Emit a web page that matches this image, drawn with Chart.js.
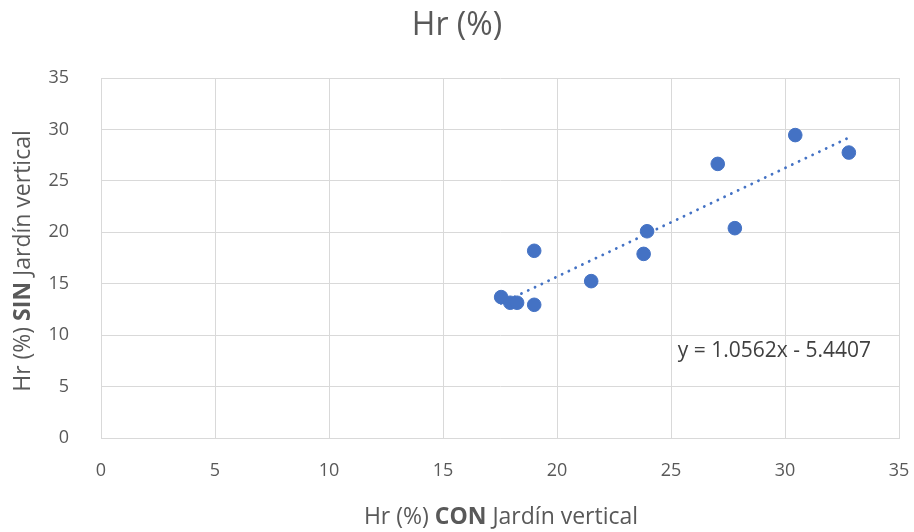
<!DOCTYPE html>
<html>
<head>
<meta charset="utf-8">
<script src="https://cdn.jsdelivr.net/npm/chart.js@4/dist/chart.umd.min.js"></script>
<style>
  html, body { margin: 0; padding: 0; background: #fff; }
  #wrap { width: 914px; height: 532px; }
</style>
</head>
<body>
<div id="wrap"><canvas id="hr"></canvas></div>
<script>
// Hr (%) CON jardín vertical vs SIN jardín vertical
const conJardin = [17.55, 17.95, 18.25, 19.0, 19.0, 21.5, 23.8, 23.95, 27.05, 27.8, 30.45, 32.8];
const sinJardin = [13.7, 13.15, 13.15, 12.95, 18.2, 15.25, 17.9, 20.1, 26.65, 20.4, 29.45, 27.75];
const axisTicks = [0, 5, 10, 15, 20, 25, 30, 35];

// linea de tendencia (Excel)
const pendiente = 1.0562;
const ordenada = -5.4407;
const ecuacion = "y = 1.0562x - 5.4407";

const gris = "#595959";
const fuente = "'Open Sans', Lato, sans-serif";

const puntos = conJardin.map((x, i) => ({ x: x, y: sinJardin[i] }));
const xMin = Math.min(...conJardin);
const xMax = Math.max(...conJardin);
const tendencia = [
    { x: xMin, y: pendiente * xMin + ordenada },
    { x: xMax, y: pendiente * xMax + ordenada }
];

// titulos de ejes con una palabra en negrita
function drawMixed(ctx, parts, size) {
    let total = 0;
    parts.forEach(p => {
        ctx.font = (p.bold ? "bold " : "") + size + "px " + fuente;
        p.w = ctx.measureText(p.t).width;
        total += p.w;
    });
    let x = -total / 2;
    parts.forEach(p => {
        ctx.font = (p.bold ? "bold " : "") + size + "px " + fuente;
        ctx.fillText(p.t, x, 0);
        x += p.w;
    });
}

const textosPlugin = {
    id: "textos",
    afterDraw(chart) {
        const ctx = chart.ctx;
        const sx = chart.scales.x;
        const sy = chart.scales.y;
        ctx.save();
        ctx.fillStyle = gris;
        ctx.textBaseline = "middle";
        ctx.textAlign = "left";

        ctx.save();
        ctx.translate(501, 517);
        drawMixed(ctx, [{ t: "Hr (%) " }, { t: "CON", bold: true }, { t: " Jardín vertical" }], 23);
        ctx.restore();

        ctx.save();
        ctx.translate(23, 261);
        ctx.rotate(-Math.PI / 2);
        drawMixed(ctx, [{ t: "Hr (%) " }, { t: "SIN", bold: true }, { t: " Jardín vertical" }], 23);
        ctx.restore();

        ctx.font = "21px " + fuente;
        ctx.fillStyle = "#404040";
        ctx.fillText(ecuacion, sx.getPixelForValue(25.3), sy.getPixelForValue(8.5));
        ctx.restore();
    }
};

const ctx = document.getElementById("hr").getContext("2d");
const chart = new Chart(ctx, {
    type: "scatter",
    data: {
        datasets: [
            {
                label: "Hr (%)",
                data: puntos,
                backgroundColor: "#4472C4",
                borderColor: "#4472C4",
                pointRadius: 6.8,
                pointHoverRadius: 6.8,
                order: 1
            },
            {
                type: "line",
                label: "Lineal",
                data: tendencia,
                borderColor: "#4472C4",
                borderWidth: 2.8,
                borderDash: [0.1, 7.4],
                borderCapStyle: "round",
                pointRadius: 0,
                fill: false,
                order: 2
            }
        ]
    },
    options: {
        responsive: true,
        maintainAspectRatio: false,
        animation: false,
        layout: { padding: 0 },
        plugins: {
            legend: { display: false },
            tooltip: { enabled: false },
            title: {
                display: true,
                text: "Hr (%)",
                color: gris,
                font: { family: fuente, size: 32, weight: "normal", lineHeight: 1.2 },
                padding: { top: 7, bottom: 32.6 }
            }
        },
        scales: {
            x: {
                type: "linear",
                min: 0,
                max: 35,
                afterBuildTicks: s => { s.ticks = axisTicks.map(v => ({ value: v })); },
                afterFit: s => { s.height = 94; s.paddingRight = 15; s.paddingLeft = 0; },
                grid: { color: "#d9d9d9", drawTicks: false },
                border: { color: "#d9d9d9" },
                ticks: { color: gris, padding: 22, font: { family: fuente, size: 18 } }
            },
            y: {
                type: "linear",
                min: 0,
                max: 35,
                afterBuildTicks: s => { s.ticks = axisTicks.map(v => ({ value: v })); },
                afterFit: s => { s.width = 101; },
                grid: { color: "#d9d9d9", drawTicks: false },
                border: { color: "#d9d9d9" },
                ticks: { color: gris, padding: 32, font: { family: fuente, size: 18 } }
            }
        }
    },
    plugins: [textosPlugin]
});
</script>
</body>
</html>
